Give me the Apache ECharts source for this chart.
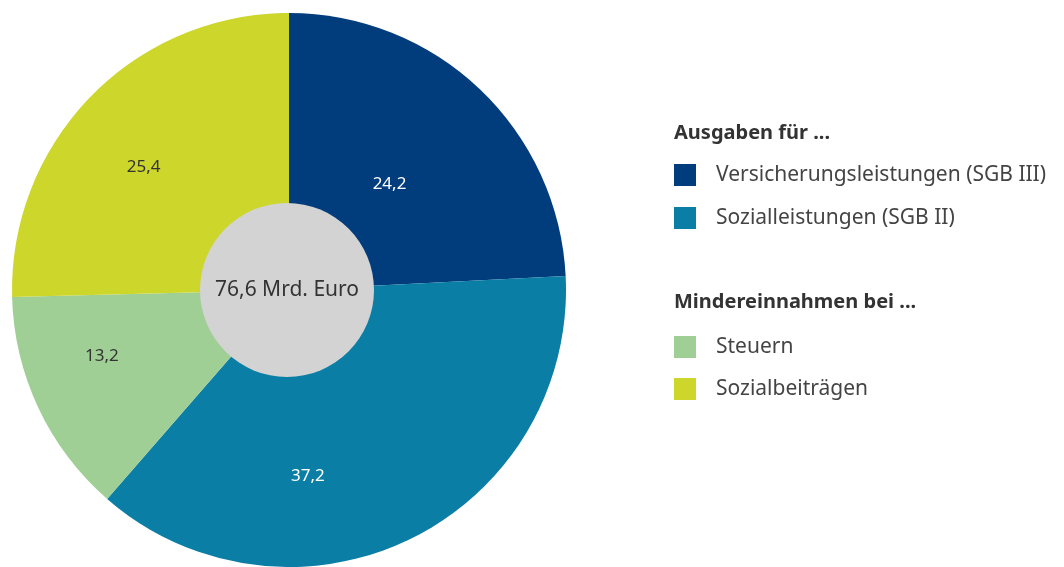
<!DOCTYPE html>
<html>
<head>
<meta charset="utf-8">
<script src="https://cdn.jsdelivr.net/npm/echarts@6/dist/echarts.min.js"></script>
<style>
    html, body { margin: 0; padding: 0; background: #fff; }
    #chart { width: 1064px; height: 567px; }
</style>
</head>
<body>
<div id="chart"></div>
<script>
    // Anteile in Prozent
    const categories = ['Versicherungsleistungen (SGB III)', 'Sozialleistungen (SGB II)', 'Steuern', 'Sozialbeiträgen']
    const values = [24.2, 37.2, 13.2, 25.4]
    const colors = ['#013c7c', '#0b7ea5', '#9fcf95', '#cdd62b']
    const totalLabel = '76,6 Mrd. Euro'
    const groupTitles = ['Ausgaben für ...', 'Mindereinnahmen bei ...']

    let chart = echarts.init(document.getElementById('chart'))
    let font = 'Noto Sans'

    // kleine Verschiebungen der Beschriftungen wie im Original
    let labelOffsets = [[3, -3], [-43, 59], [-59, 6], [-44, -24]]
    let labelColors = ['#ffffff', '#ffffff', '#333333', '#333333']

    let options = {
        animation: false,
        textStyle: { fontFamily: font },
        title: [
            {
                text: groupTitles[0],
                left: 674, top: 123, padding: 0,
                textStyle: { fontFamily: font, fontSize: 20, fontWeight: 'bold', color: '#333' }
            },
            {
                text: groupTitles[1],
                left: 674, top: 292, padding: 0,
                textStyle: { fontFamily: font, fontSize: 20, fontWeight: 'bold', color: '#333' }
            }
        ],
        legend: [
            {
                orient: 'vertical',
                left: 674, top: 164, padding: 0,
                icon: 'rect',
                itemWidth: 22, itemHeight: 22, itemGap: 21,
                selectedMode: false,
                data: categories.slice(0, 2),
                textStyle: { fontFamily: font, fontSize: 21, color: '#444', padding: [0, 0, 0, 15] }
            },
            {
                orient: 'vertical',
                left: 674, top: 336, padding: 0,
                icon: 'rect',
                itemWidth: 22, itemHeight: 22, itemGap: 20,
                selectedMode: false,
                data: categories.slice(2),
                textStyle: { fontFamily: font, fontSize: 21, color: '#444', padding: [0, 0, 0, 15] }
            }
        ],
        series: [
            {
                type: 'pie',
                center: [289, 290],
                radius: [0, 277],
                startAngle: 90,
                clockwise: true,
                silent: true,
                emphasis: { disabled: true },
                data: categories.map((c, i) => {
                    return {
                        name: c, value: values[i],
                        itemStyle: { color: colors[i] },
                        label: { color: labelColors[i], offset: labelOffsets[i] }
                    }
                }),
                label: {
                    show: true,
                    position: 'inside',
                    fontFamily: font,
                    fontSize: 17,
                    formatter: (p) => p.value.toFixed(1).replace('.', ',')
                },
                labelLine: { show: false }
            },
            {
                type: 'pie',
                center: [287, 290],
                radius: [0, 87],
                silent: true,
                emphasis: { disabled: true },
                data: [{ name: totalLabel, value: 1, itemStyle: { color: '#d3d3d3' } }],
                label: {
                    show: true,
                    position: 'center',
                    fontFamily: font,
                    fontSize: 21,
                    color: '#333'
                },
                labelLine: { show: false }
            }
        ]
    }
    chart.setOption(options)
</script>
</body>
</html>
